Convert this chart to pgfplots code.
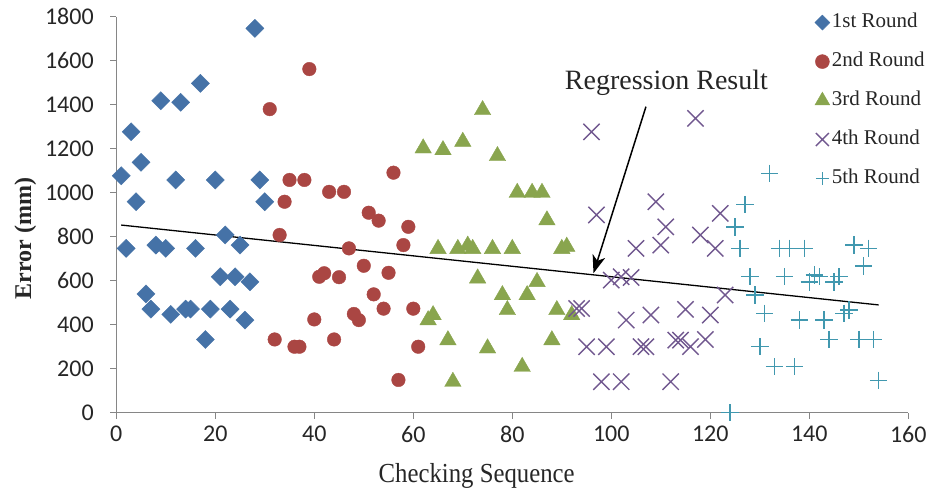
\documentclass[border=0pt]{standalone}
\usepackage{fontspec}
\setmainfont{Liberation Serif}
\newfontfamily\tickfont{Carlito}
\newfontfamily\narrowserif[FakeStretch=0.9]{Liberation Serif}
\usepackage{pgfplots}
\pgfplotsset{compat=1.18}
\usetikzlibrary{arrows.meta}
\definecolor{rblue}{HTML}{4572A7}
\definecolor{rred}{HTML}{AA4643}
\definecolor{rgreen}{HTML}{89A54E}
\definecolor{rpurple}{HTML}{71588F}
\definecolor{rcyan}{HTML}{4198AF}
\definecolor{axisgray}{HTML}{868686}
\begin{document}
\begin{tikzpicture}
\begin{axis}[
  scale only axis, width=792pt, height=396pt,
  xmin=0, xmax=160, ymin=0, ymax=1800,
  xtick={0,20,...,160}, ytick={0,200,...,1800},
  axis lines=left,
  axis line style={-, draw=axisgray, line width=1.4pt},
  tick style={draw=axisgray, line width=1.4pt},
  tick align=outside, major tick length=6pt,
  clip=false,
  /pgf/number format/assume math mode=true,
  /pgf/number format/1000 sep={},
  tick label style={font=\tickfont\fontsize{24}{24}\selectfont, text=black!85},
  yticklabel style={xshift=-13pt},
  xticklabel style={yshift=-4pt},
  xlabel={\narrowserif Checking Sequence},
  ylabel={\bfseries Error (mm)},
  every axis x label/.style={at={(rel axis cs:0.455,0)}, anchor=base, yshift=-70pt,
    font=\fontsize{27.5}{27.5}\selectfont, text=black!85},
  every axis y label/.style={at={(rel axis cs:0,0.44)}, rotate=90, anchor=center, yshift=91pt,
    font=\fontsize{24}{24}\selectfont, text=black!85},
  legend style={draw=none, fill=none, at={(rel axis cs:0.878,1.021)}, anchor=north west,
    font=\fontsize{21}{21}\selectfont, text=black!85, row sep=15pt,
    nodes={inner sep=2pt, text height=15pt, text depth=5pt}},
  legend cell align=left,
  legend image code/.code={\draw[#1] plot coordinates {(0pt,0pt)};},
]
\addplot[only marks, color=rblue, mark=square*, mark size=6.4pt, mark options={rotate=45},
  legend image post style={mark size=5.3pt}] coordinates {
(1,1077)(2,747)(3,1277)(4,959)(5,1138)(6,540)(7,471)(8,762)(9,1418)(10,747)
(11,447)(12,1058)(13,1411)(14,471)(15,471)(16,747)(17,1497)(18,333)(19,471)(20,1058)
(21,618)(22,808)(23,471)(24,618)(25,762)(26,421)(27,595)(28,1747)(29,1058)(30,959)
};
\addlegendentry{1st Round}
\addplot[only marks, color=rred, mark=*, mark size=6.8pt,
  legend image post style={mark size=7pt}] coordinates {
(31,1380)(32,333)(33,808)(34,959)(35,1058)(36,300)(37,300)(38,1058)(39,1562)(40,424)
(41,618)(42,634)(43,1004)(44,333)(45,616)(46,1004)(47,747)(48,449)(49,421)(50,668)
(51,909)(52,538)(53,873)(54,473)(55,636)(56,1091)(57,149)(58,762)(59,845)(60,473)(61,300)
};
\addlegendentry{2nd Round}
\addplot[only marks, color=rgreen, mark=triangle*, mark size=9.5pt,
  legend image post style={mark size=8.5pt}] coordinates {
(62,1202)(63,421)(64,444)(65,745)(66,1194)(67,330)(68,141)(69,745)(70,1232)(71,760)
(72,745)(73,611)(74,1376)(75,293)(76,745)(77,1167)(78,535)(79,467)(80,745)(81,1000)
(82,209)(83,535)(84,1000)(85,595)(86,1000)(87,875)(88,330)(89,467)(90,745)(91,755)(92,444)
};
\addlegendentry{3rd Round}
\addplot[only marks, color=rpurple, mark=x, mark size=11.5pt, mark options={line width=1.4pt},
  legend image post style={mark size=9.2pt}] coordinates {
(93,474)(94,474)(95,300)(96,1277)(97,899)(98,141)(99,300)(100,603)(102,618)(102,141)
(103,421)(104,615)(105,747)(106,300)(107,300)(108,444)(109,959)(110,762)(111,845)(112,141)
(113,330)(114,330)(115,470)(116,300)(117,1338)(118,808)(119,333)(120,444)(121,747)(122,906)(123,535)
};
\addlegendentry{4th Round}
\addplot[only marks, color=rcyan, mark=+, mark size=8.7pt, mark options={line width=1.4pt},
  legend image post style={mark size=6.5pt}] coordinates {
(124,0)(125,845)(126,747)(127,946)(128,618)(129,535)(130,300)(131,452)(132,1088)(133,209)
(134,747)(135,618)(136,747)(137,209)(138,421)(139,747)(140,595)(141,626)(142,618)(143,421)
(144,333)(145,595)(146,618)(147,452)(148,467)(149,762)(150,333)(151,667)(152,747)(153,333)(154,147)
};
\addlegendentry{5th Round}
\addplot[black, line width=1.3pt, forget plot] coordinates {(1,853)(154,490)};
\node[anchor=base west, font=\fontsize{28}{28}\selectfont, text=black!85, inner sep=0pt]
  at (axis cs:90.6,1470) {Regression Result};
\draw[line width=1.5pt, -{Stealth[length=18pt,width=13pt,inset=5pt]}]
  (axis cs:107,1391) -- (axis cs:96.4,634);
\path (rel axis cs:-0.1468,-0.1876) rectangle (rel axis cs:1.0337,1.0422);
\end{axis}
\end{tikzpicture}
\end{document}
